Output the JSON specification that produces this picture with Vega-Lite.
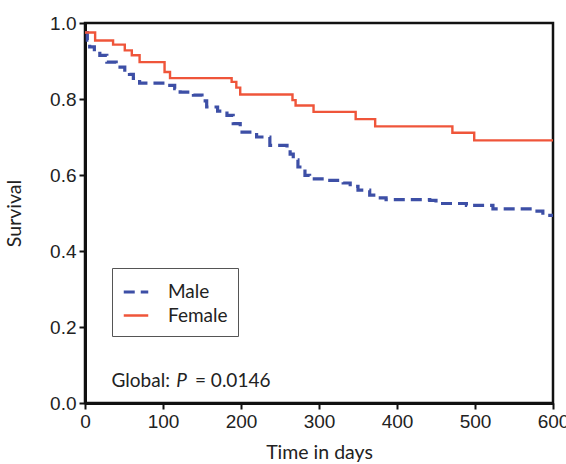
{
  "$schema": "https://vega.github.io/schema/vega-lite/v6.json",
  "width": 468,
  "height": 380,
  "autosize": "none",
  "padding": {"left": 85, "top": 23, "right": 13, "bottom": 61},
  "background": "white",
  "config": {
    "view": {"stroke": "#111", "strokeWidth": 2.5},
    "axis": {"grid": false}
  },
  "datasets": {
    "km": [
      {"sex": "Male", "day": 0, "surv": 0.975},
      {"sex": "Male", "day": 3, "surv": 0.955},
      {"sex": "Male", "day": 6, "surv": 0.937},
      {"sex": "Male", "day": 12, "surv": 0.925},
      {"sex": "Male", "day": 19, "surv": 0.915},
      {"sex": "Male", "day": 28, "surv": 0.897},
      {"sex": "Male", "day": 40, "surv": 0.884},
      {"sex": "Male", "day": 51, "surv": 0.876},
      {"sex": "Male", "day": 57, "surv": 0.865},
      {"sex": "Male", "day": 62, "surv": 0.854},
      {"sex": "Male", "day": 70, "surv": 0.842},
      {"sex": "Male", "day": 105, "surv": 0.836},
      {"sex": "Male", "day": 115, "surv": 0.827},
      {"sex": "Male", "day": 122, "surv": 0.818},
      {"sex": "Male", "day": 139, "surv": 0.81},
      {"sex": "Male", "day": 150, "surv": 0.795},
      {"sex": "Male", "day": 156, "surv": 0.779},
      {"sex": "Male", "day": 170, "surv": 0.768},
      {"sex": "Male", "day": 182, "surv": 0.757},
      {"sex": "Male", "day": 190, "surv": 0.735},
      {"sex": "Male", "day": 199, "surv": 0.713},
      {"sex": "Male", "day": 220, "surv": 0.7},
      {"sex": "Male", "day": 237, "surv": 0.678},
      {"sex": "Male", "day": 259, "surv": 0.669},
      {"sex": "Male", "day": 263, "surv": 0.655},
      {"sex": "Male", "day": 267, "surv": 0.64},
      {"sex": "Male", "day": 273, "surv": 0.621},
      {"sex": "Male", "day": 282, "surv": 0.599},
      {"sex": "Male", "day": 288, "surv": 0.59},
      {"sex": "Male", "day": 310, "surv": 0.586},
      {"sex": "Male", "day": 331, "surv": 0.579},
      {"sex": "Male", "day": 340, "surv": 0.57},
      {"sex": "Male", "day": 350, "surv": 0.56},
      {"sex": "Male", "day": 365, "surv": 0.547},
      {"sex": "Male", "day": 375, "surv": 0.54},
      {"sex": "Male", "day": 386, "surv": 0.535},
      {"sex": "Male", "day": 442, "surv": 0.533},
      {"sex": "Male", "day": 450, "surv": 0.525},
      {"sex": "Male", "day": 489, "surv": 0.52},
      {"sex": "Male", "day": 523, "surv": 0.511},
      {"sex": "Male", "day": 574, "surv": 0.505},
      {"sex": "Male", "day": 587, "surv": 0.494},
      {"sex": "Male", "day": 600, "surv": 0.494},
      {"sex": "Female", "day": 0, "surv": 0.975},
      {"sex": "Female", "day": 13, "surv": 0.954},
      {"sex": "Female", "day": 36, "surv": 0.943},
      {"sex": "Female", "day": 51, "surv": 0.928},
      {"sex": "Female", "day": 60, "surv": 0.915},
      {"sex": "Female", "day": 70, "surv": 0.897},
      {"sex": "Female", "day": 102, "surv": 0.871},
      {"sex": "Female", "day": 109, "surv": 0.855},
      {"sex": "Female", "day": 188, "surv": 0.845},
      {"sex": "Female", "day": 194, "surv": 0.83},
      {"sex": "Female", "day": 199, "surv": 0.812},
      {"sex": "Female", "day": 266, "surv": 0.797},
      {"sex": "Female", "day": 270, "surv": 0.783},
      {"sex": "Female", "day": 293, "surv": 0.766},
      {"sex": "Female", "day": 347, "surv": 0.747},
      {"sex": "Female", "day": 372, "surv": 0.728},
      {"sex": "Female", "day": 471, "surv": 0.711},
      {"sex": "Female", "day": 499, "surv": 0.691},
      {"sex": "Female", "day": 600, "surv": 0.691}
    ],
    "note": [{"part1": "Global:", "part2": "P", "part3": "= 0.0146"}]
  },
  "layer": [
    {
      "data": {"name": "km"},
      "mark": {"type": "line", "interpolate": "step-after", "clip": true},
      "encoding": {
        "x": {
          "field": "day", "type": "quantitative",
          "scale": {"domain": [0, 600], "nice": false, "zero": false},
          "axis": {
            "title": "Time in days", "values": [0, 100, 200, 300, 400, 500, 600],
            "domainColor": "#111", "domainWidth": 3,
            "tickColor": "#111", "tickWidth": 2, "tickSize": 6,
            "labelFont": "Liberation Sans", "labelFontSize": 19, "labelColor": "#222",
            "labelPadding": 3, "labelFlush": false,
            "titleFont": "Lato", "titleFontSize": 19.5, "titleFontWeight": "normal", "titleColor": "#222",
            "titlePadding": 12
          }
        },
        "y": {
          "field": "surv", "type": "quantitative",
          "scale": {"domain": [0, 1], "nice": false},
          "axis": {
            "title": "Survival", "values": [0, 0.2, 0.4, 0.6, 0.8, 1.0], "format": ".1f",
            "domainColor": "#111", "domainWidth": 3,
            "tickColor": "#111", "tickWidth": 2, "tickSize": 6,
            "labelFont": "Liberation Sans", "labelFontSize": 19, "labelColor": "#222",
            "labelPadding": 3, "labelFlush": false,
            "titleFont": "Lato", "titleFontSize": 19.5, "titleFontWeight": "normal", "titleColor": "#222",
            "titlePadding": 25
          }
        },
        "color": {
          "field": "sex", "type": "nominal",
          "scale": {"domain": ["Male", "Female"], "range": ["#3d4fa6", "#ef553a"]},
          "legend": {
            "title": null, "orient": "none", "legendX": 27, "legendY": 245,
            "direction": "vertical",
            "strokeColor": "#555", "fillColor": "white", "padding": 10,
            "symbolType": "stroke", "symbolSize": 600, "symbolStrokeWidth": 3,
            "labelFont": "Lato", "labelFontSize": 19, "labelColor": "#222",
            "rowPadding": 0, "labelOffset": 18
          }
        },
        "strokeDash": {
          "field": "sex", "type": "nominal",
          "scale": {"domain": ["Male", "Female"], "range": [[11, 6], [1, 0]]},
          "legend": {
            "title": null, "orient": "none", "legendX": 27, "legendY": 245,
            "direction": "vertical",
            "strokeColor": "#555", "fillColor": "white", "padding": 10,
            "symbolType": "stroke", "symbolSize": 600, "symbolStrokeWidth": 3,
            "labelFont": "Lato", "labelFontSize": 19, "labelColor": "#222",
            "rowPadding": 0, "labelOffset": 18
          }
        },
        "strokeWidth": {
          "field": "sex", "type": "nominal",
          "scale": {"domain": ["Male", "Female"], "range": [3.2, 2.4]},
          "legend": null
        }
      }
    },
    {
      "data": {"name": "note"},
      "mark": {"type": "text", "align": "left", "baseline": "alphabetic", "font": "Lato", "fontSize": 19, "color": "#222"},
      "encoding": {"x": {"datum": 34}, "y": {"datum": 0.042}, "text": {"field": "part1"}}
    },
    {
      "data": {"name": "note"},
      "mark": {"type": "text", "align": "left", "baseline": "alphabetic", "font": "Lato", "fontSize": 19, "fontStyle": "italic", "color": "#222"},
      "encoding": {"x": {"datum": 117}, "y": {"datum": 0.042}, "text": {"field": "part2"}}
    },
    {
      "data": {"name": "note"},
      "mark": {"type": "text", "align": "left", "baseline": "alphabetic", "font": "Lato", "fontSize": 19, "color": "#222"},
      "encoding": {"x": {"datum": 141}, "y": {"datum": 0.042}, "text": {"field": "part3"}}
    }
  ]
}
